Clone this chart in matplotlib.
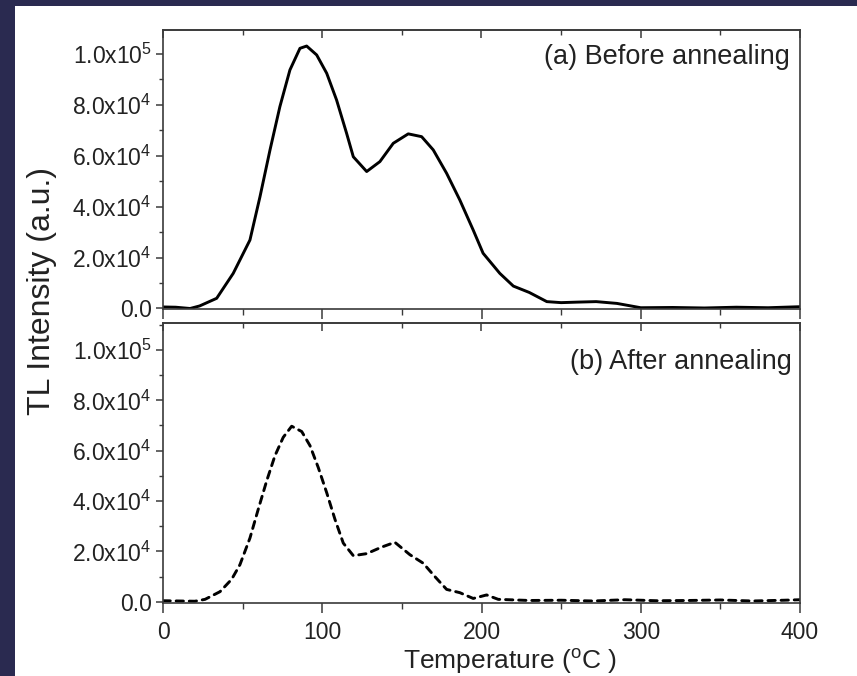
import numpy as np
import matplotlib
matplotlib.use('Agg')
import matplotlib.pyplot as plt
from matplotlib.patches import Rectangle
from matplotlib.ticker import MultipleLocator, FuncFormatter

plt.rcParams['font.family'] = ['Liberation Sans', 'DejaVu Sans']
plt.rcParams['mathtext.fontset'] = 'custom'
plt.rcParams['mathtext.rm'] = 'Liberation Sans'
plt.rcParams['mathtext.default'] = 'regular'

# 数据：退火前 (实线)
temp_before = [0, 8, 17, 23, 33.7, 44.1, 54.6, 60.9, 67.2, 73.4, 79.7, 86, 90.2, 96.5,
               102.8, 109, 115.3, 119.5, 127.9, 136.2, 144.6, 154, 162.4, 169.7, 178.1,
               186.4, 194.8, 201, 211.5, 220, 230, 241, 250, 260, 272, 285, 300, 320,
               340, 360, 380, 400]
tl_before = [600, 500, 0, 1000, 4000, 13800, 26900, 43900, 62300, 79300, 93700, 102200,
             103100, 99600, 92400, 81900, 68800, 59600, 53800, 57700, 64900, 68600,
             67500, 62300, 53100, 42600, 30800, 21700, 13800, 8800, 6300, 2700, 2300,
             2500, 2700, 2000, 300, 400, 200, 500, 300, 700]

# 数据：退火后 (虚线)
temp_after = [0, 10, 20, 26.4, 35.8, 43.1, 48.3, 54.6, 59.8, 65.1, 70.3, 75.5, 80.8,
              87.1, 92.3, 97.5, 102.8, 108, 113.2, 119.5, 127.9, 137.3, 145.6, 155,
              163.4, 170.7, 178.1, 186.4, 194.8, 203.2, 210.5, 230, 250, 270, 290, 310,
              330, 350, 370, 390, 400]
tl_after = [400, 300, 200, 950, 4000, 8900, 14700, 25300, 36700, 48000, 58000, 65300,
            69700, 67600, 62000, 53300, 43300, 32700, 23300, 18300, 19100, 21700, 23600,
            18700, 15300, 10000, 4900, 3600, 1300, 2700, 950, 500, 600, 300, 800, 400,
            500, 700, 300, 600, 800]

panel_labels = ['(a) Before annealing', '(b) After annealing']

W, H = 857, 676
navy = '#2a2a50'
spine_c = '#3a3a3a'
text_c = '#222222'


def sci_fmt(v, pos):
    if abs(v) < 1:
        return '0.0'
    e = int(np.floor(np.log10(abs(v))))
    m = v / 10 ** e
    return '%.1fx10$^{%d}$' % (m, e)


fig = plt.figure(figsize=(W / 100, H / 100), dpi=100, facecolor=navy)
fig.patches.append(Rectangle((15 / W, 0), 1 - 15 / W, 1 - 6 / H, transform=fig.transFigure,
                             facecolor='white', edgecolor='none', zorder=-1))

ax1 = fig.add_axes([163 / W, 1 - 309 / H, 637 / W, 279 / H])
ax2 = fig.add_axes([163 / W, 1 - 603 / H, 637 / W, 280 / H])

ax1.plot(temp_before, tl_before, color='black', lw=2.1, solid_joinstyle='round')
ax2.plot(temp_after, tl_after, color='black', lw=2.1, dashes=(2.5, 2), dash_capstyle='round')

ax1.set_ylim(-200, 1.094e5)
ax2.set_ylim(-500, 1.107e5)

for ax, lab, tx, ty in [(ax1, panel_labels[0], 0.984, 0.903), (ax2, panel_labels[1], 0.987, 0.861)]:
    ax.set_xlim(0, 400)
    ax.set_facecolor('white')
    for s in ax.spines.values():
        s.set_color(spine_c)
        s.set_linewidth(1.2)
    ax.xaxis.set_major_locator(MultipleLocator(100))
    ax.xaxis.set_minor_locator(MultipleLocator(50))
    ax.yaxis.set_major_locator(MultipleLocator(2e4))
    ax.yaxis.set_minor_locator(MultipleLocator(1e4))
    ax.yaxis.set_major_formatter(FuncFormatter(sci_fmt))
    ax.tick_params(axis='y', which='major', direction='out', length=5, width=1.1,
                   color=spine_c, labelsize=16.5, labelcolor=text_c, pad=3, right=False)
    ax.tick_params(axis='y', which='minor', direction='out', length=3, width=1.0,
                   color=spine_c, right=False)
    ax.tick_params(axis='x', which='major', direction='out', length=7, width=1.1,
                   color=spine_c, labelsize=16.5, labelcolor=text_c, pad=6, top=False)
    ax.tick_params(axis='x', which='minor', direction='out', length=4, width=1.0,
                   color=spine_c, top=False)
    # 顶部刻度朝内
    sec = ax.secondary_xaxis('top')
    sec.xaxis.set_major_locator(MultipleLocator(100))
    sec.xaxis.set_minor_locator(MultipleLocator(50))
    sec.tick_params(axis='x', which='major', direction='in', length=6, width=1.1,
                    color=spine_c, labeltop=False)
    sec.tick_params(axis='x', which='minor', direction='in', length=3.5, width=1.0,
                    color=spine_c, labeltop=False)
    sec.spines['top'].set_color(spine_c)
    sec.spines['top'].set_linewidth(1.2)
    ax.text(tx, ty, lab, transform=ax.transAxes, ha='right', va='center',
            fontsize=19.5, color=text_c)

ax1.tick_params(axis='x', labelbottom=False)

fig.text(510 / W, 1 - 661 / H, 'Temperature ($^{o}$C )', ha='center', va='center',
         fontsize=19, color=text_c)
fig.text(42 / W, 1 - 291 / H, 'TL Intensity (a.u.)', rotation=90, ha='center', va='center',
         fontsize=23, color=text_c)

plt.savefig('out.png', dpi=100, facecolor=navy)
plt.close()
